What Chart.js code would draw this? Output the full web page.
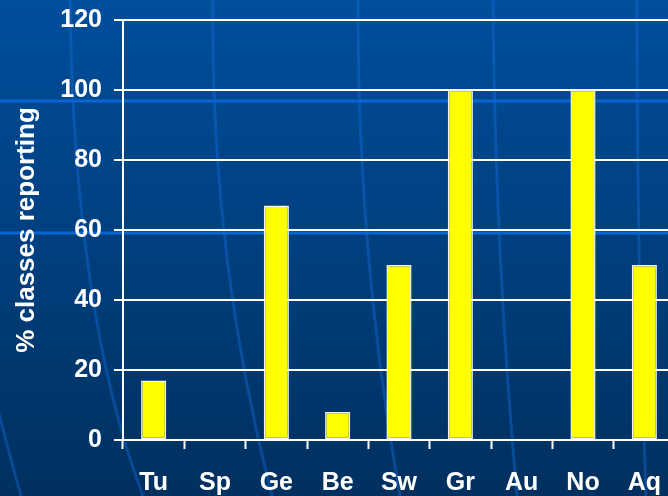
<!DOCTYPE html>
<html>
<head>
<meta charset="utf-8">
<title>% classes reporting</title>
<script src="https://cdn.jsdelivr.net/npm/chart.js@4.4.0/dist/chart.umd.min.js"></script>
<style>
  html, body { margin: 0; padding: 0; overflow: hidden; background: #003f80; }
  #wrap { width: 675px; height: 496px; }
</style>
</head>
<body>
<div id="wrap"><canvas id="myChart" width="675" height="496"></canvas></div>
<script>
'use strict';

// data
const categories = ['Tu', 'Sp', 'Ge', 'Be', 'Sw', 'Gr', 'Au', 'No', 'Aq'];
const percentReporting = [17, 0, 67, 8, 50, 100, 0, 100, 50];
const yTicks = [0, 20, 40, 60, 80, 100, 120];
const axisTitle = '% classes reporting';

// decorative background curves (start, middle, end) - slide template stuff
const curves = [
  [[70, 0], [90, 280], [143, 496]],
  [[213, 0], [226, 250], [272, 496]],
  [[358, 0], [368, 250], [400, 496]],
  [[493, 0], [500, 250], [517, 496]],
  [[637, 0], [639, 250], [646, 496]],
  [[-2, 410], [9, 452], [21, 496]]
];
const bands = [101, 233];

// draws the blue slide background behind everything
const slideBackground = {
  id: 'slideBackground',
  beforeDraw(chart) {
    const ctx = chart.ctx;
    const w = chart.width;
    const h = chart.height;
    ctx.save();
    let grad = ctx.createLinearGradient(0, 0, 0, h);
    grad.addColorStop(0, '#004e9c');
    grad.addColorStop(1, '#00305f');
    ctx.fillStyle = grad;
    ctx.fillRect(0, 0, w, h);

    // faint curves
    ctx.strokeStyle = 'rgba(20, 110, 225, 0.4)';
    ctx.lineWidth = 3;
    for (let i = 0; i < curves.length; i++) {
      let p0 = curves[i][0];
      let pm = curves[i][1];
      let p1 = curves[i][2];
      // control point so the curve passes through the middle point
      let cx = 2 * pm[0] - (p0[0] + p1[0]) / 2;
      let cy = 2 * pm[1] - (p0[1] + p1[1]) / 2;
      ctx.beginPath();
      ctx.moveTo(p0[0], p0[1]);
      ctx.quadraticCurveTo(cx, cy, p1[0], p1[1]);
      ctx.stroke();
    }

    // light horizontal bands
    ctx.strokeStyle = '#0a64d2';
    ctx.lineWidth = 3;
    for (let i = 0; i < bands.length; i++) {
      ctx.beginPath();
      ctx.moveTo(0, bands[i]);
      ctx.lineTo(w, bands[i]);
      ctx.stroke();
    }
    ctx.restore();
  }
};

const labelFont = { family: "'Liberation Sans', Arial, sans-serif", size: 25, weight: 'bold' };

let config = {
  type: 'bar',
  data: {
    labels: categories,
    datasets: [
      {
        label: axisTitle,
        data: percentReporting,
        backgroundColor: '#ffff00',
        borderColor: '#f4f4f4',
        borderWidth: 1.5,
        borderSkipped: false,
        categoryPercentage: 1,
        barPercentage: 0.41
      }
    ]
  },
  options: {
    responsive: false,
    animation: false,
    layout: { padding: { top: 20, right: 0, left: 0, bottom: 0 } },
    plugins: {
      legend: { display: false },
      tooltip: { enabled: false }
    },
    scales: {
      x: {
        grid: {
          display: true,
          drawOnChartArea: false,
          drawTicks: true,
          tickLength: 9,
          tickWidth: 2,
          tickColor: '#ffffff',
          offset: true
        },
        border: { display: true, color: '#ffffff', width: 2 },
        ticks: { color: '#ffffff', font: labelFont, padding: 19, maxRotation: 0, autoSkip: false },
        afterFit(scale) {
          scale.height = 56;
          // no extra room for the end labels, the plot runs off the right edge
          scale.paddingLeft = 0;
          scale.paddingRight = 0;
        }
      },
      y: {
        min: 0,
        max: 120,
        afterBuildTicks(scale) {
          scale.ticks = yTicks.map(v => ({ value: v }));
        },
        grid: {
          color: '#ffffff',
          lineWidth: 2,
          drawTicks: true,
          tickLength: 9,
          tickColor: '#ffffff',
          tickWidth: 2
        },
        border: { display: true, color: '#ffffff', width: 2 },
        ticks: { color: '#ffffff', font: labelFont, padding: 12 },
        title: {
          display: true,
          text: axisTitle,
          color: '#ffffff',
          font: { family: "'Liberation Sans', Arial, sans-serif", size: 26, weight: 'bold' },
          padding: { top: 11, bottom: 0 }
        },
        afterFit(scale) {
          scale.width = 123;
          scale.paddingTop = 0;
          scale.paddingBottom = 0;
        }
      }
    }
  },
  plugins: [slideBackground]
};

const ctx = document.getElementById('myChart').getContext('2d');
const myChart = new Chart(ctx, config);
</script>
</body>
</html>
